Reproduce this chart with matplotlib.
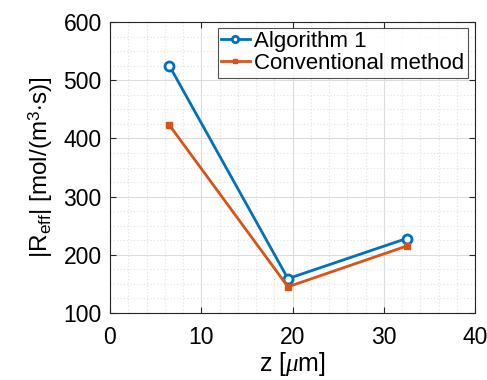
import matplotlib
matplotlib.use("Agg")
import matplotlib.pyplot as plt
from matplotlib.ticker import MultipleLocator

z = [6.5, 19.5, 32.5]
alg1 = [525, 159, 228]
conv = [423, 145, 215]
xticks = [0, 10, 20, 30, 40]
yticks = [100, 200, 300, 400, 500, 600]

plt.rcParams['font.family'] = ['Liberation Sans', 'DejaVu Sans']
plt.rcParams['mathtext.fontset'] = 'custom'
plt.rcParams['mathtext.rm'] = 'Liberation Sans'
plt.rcParams['mathtext.it'] = 'Liberation Serif:italic'

fig = plt.figure(figsize=(4.87, 3.8), dpi=100)
ax = fig.add_axes([110/487, 1-313/380, 365/487, 291/380])

ax.plot(z, alg1, '-o', color='#0072BD', lw=2, ms=6.5, mfc='white', mew=2, label='Algorithm 1', zorder=3)
ax.plot(z, conv, '-s', color='#D95319', lw=2, ms=5, mfc='#D95319', mew=1, label='Conventional method', zorder=3)

ax.set_xlim(0, 40)
ax.set_ylim(100, 600)
ax.set_xticks(xticks)
ax.set_yticks(yticks)
ax.xaxis.set_minor_locator(MultipleLocator(2))
ax.yaxis.set_minor_locator(MultipleLocator(25))
ax.grid(True, which='major', color='#dcdcdc', lw=0.8, ls='-')
ax.grid(True, which='minor', color='#e0e0e0', lw=0.8, ls=(0, (1, 2)))
ax.set_axisbelow(True)
ax.tick_params(which='both', direction='in', top=True, right=True, color='#262626', labelsize=16.5)
ax.tick_params(axis='y', pad=6)
ax.tick_params(axis='x', pad=9)
ax.tick_params(which='minor', length=0)
ax.tick_params(which='major', length=4)
for s in ax.spines.values():
    s.set_color('#262626')
    s.set_linewidth(0.8)

ax.set_xlabel(r'z [$\mu$m]', fontsize=18, labelpad=1)
ax.set_ylabel(r'|R$_{\rm eff}$| [mol/(m$^3$$\cdot$s)]', fontsize=17.5, labelpad=6)

leg = ax.legend(loc='upper right', fontsize=16, frameon=True, fancybox=False, edgecolor='#262626',
                borderpad=0.15, handlelength=1.3, handletextpad=0.2, labelspacing=0.05,
                bbox_to_anchor=(0.98, 0.98), borderaxespad=0, markerscale=0.7)
leg.get_frame().set_linewidth(0.8)

fig.savefig('out.png', dpi=100)
